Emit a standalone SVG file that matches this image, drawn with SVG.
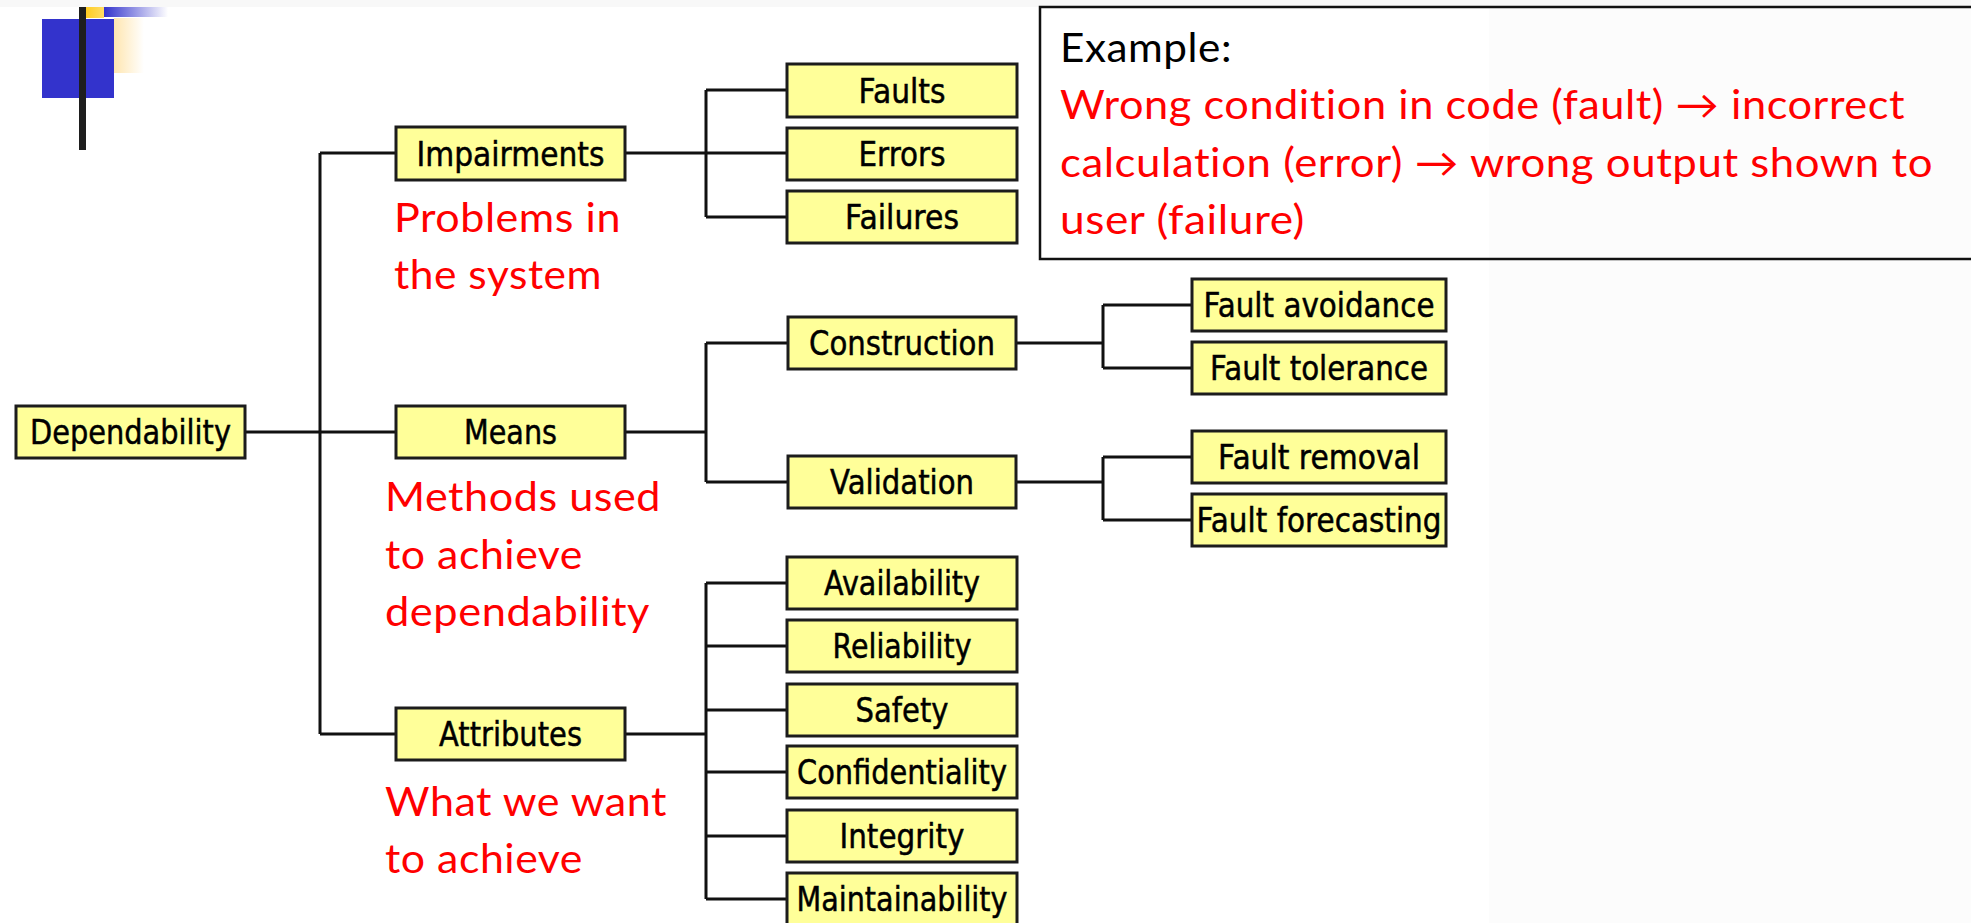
<svg xmlns="http://www.w3.org/2000/svg" width="1971" height="923" viewBox="0 0 1971 923">
<style>
.box{fill:#FFFF99;stroke:#1c1c1c;stroke-width:3}
.lbl{font-family:"DejaVu Sans","Liberation Sans",sans-serif;font-size:33px;fill:#000;stroke:#000;stroke-width:0.5;text-anchor:middle}
.note{font-family:Lato,"Open Sans","DejaVu Sans",sans-serif;font-size:40px;fill:#FF0000;font-variant-ligatures:none;font-feature-settings:"liga" 0,"clig" 0,"dlig" 0,"calt" 0,"hlig" 0;letter-spacing:0.5px}
.ex{font-family:Lato,"Open Sans","DejaVu Sans",sans-serif;font-size:40px;fill:#000;font-variant-ligatures:none;font-feature-settings:"liga" 0,"clig" 0,"dlig" 0,"calt" 0,"hlig" 0;letter-spacing:0.5px}
.con{fill:none;stroke:#111;stroke-width:3}
</style>
<defs>
<linearGradient id="gBlue" x1="0" y1="0" x2="1" y2="0">
<stop offset="0" stop-color="#3333CC"/><stop offset="1" stop-color="#3333CC" stop-opacity="0"/>
</linearGradient>
<linearGradient id="gGold" x1="0" y1="0" x2="1" y2="0">
<stop offset="0" stop-color="#FFCC22"/><stop offset="1" stop-color="#FFDD66"/>
</linearGradient>
<linearGradient id="gCream" x1="0" y1="0" x2="1" y2="0">
<stop offset="0" stop-color="#FFE6B0"/><stop offset="1" stop-color="#FFE6B0" stop-opacity="0"/>
</linearGradient>
</defs>
<rect x="0" y="0" width="1971" height="923" fill="#ffffff"/>
<rect x="1489" y="0" width="482" height="923" fill="#fcfcfc"/>
<rect x="0" y="0" width="1971" height="7" fill="#f8f8f8"/>
<g id="logo">
<rect x="114" y="18" width="30" height="55" fill="url(#gCream)"/>
<rect x="104" y="7" width="64" height="10" fill="url(#gBlue)"/>
<rect x="86" y="7" width="18" height="11" fill="url(#gGold)"/>
<rect x="42" y="19" width="72" height="79" fill="#3333CC"/>
<rect x="79" y="7" width="7" height="143" fill="#1e1e1e"/>
</g>
<g id="connectors">
<path class="con" d="M245,432 H396 M320,153 V734 M320,153 H396 M320,734 H396"/>
<path class="con" d="M625,153 H787 M706,90 V217 M706,90 H787 M706,217 H787"/>
<path class="con" d="M625,432 H706 M706,343 V482 M706,343 H788 M706,482 H788"/>
<path class="con" d="M1016,343 H1103 M1103,305 V368 M1103,305 H1192 M1103,368 H1192"/>
<path class="con" d="M1016,482 H1103 M1103,457 V520 M1103,457 H1192 M1103,520 H1192"/>
<path class="con" d="M625,734 H706 M706,583 V899 M706,583 H787 M706,646 H787 M706,710 H787 M706,772 H787 M706,836 H787 M706,899 H787"/>
</g>
<g id="n-dependability"><rect class="box" x="16" y="406" width="229" height="52"/><text class="lbl" x="130.5" y="444" textLength="201" lengthAdjust="spacingAndGlyphs">Dependability</text></g>
<g id="n-impairments"><rect class="box" x="396" y="127" width="229" height="53"/><text class="lbl" x="510.5" y="166" textLength="188" lengthAdjust="spacingAndGlyphs">Impairments</text></g>
<g id="n-means"><rect class="box" x="396" y="406" width="229" height="52"/><text class="lbl" x="510.5" y="444" textLength="93" lengthAdjust="spacingAndGlyphs">Means</text></g>
<g id="n-attributes"><rect class="box" x="396" y="708" width="229" height="52"/><text class="lbl" x="510.5" y="746" textLength="143" lengthAdjust="spacingAndGlyphs">Attributes</text></g>
<g id="n-faults"><rect class="box" x="787" y="64" width="230" height="53"/><text class="lbl" x="902" y="103" textLength="87" lengthAdjust="spacingAndGlyphs">Faults</text></g>
<g id="n-errors"><rect class="box" x="787" y="128" width="230" height="52"/><text class="lbl" x="902" y="166" textLength="87" lengthAdjust="spacingAndGlyphs">Errors</text></g>
<g id="n-failures"><rect class="box" x="787" y="191" width="230" height="52"/><text class="lbl" x="902" y="229" textLength="114" lengthAdjust="spacingAndGlyphs">Failures</text></g>
<g id="n-construction"><rect class="box" x="788" y="317" width="228" height="52"/><text class="lbl" x="902" y="355" textLength="186" lengthAdjust="spacingAndGlyphs">Construction</text></g>
<g id="n-validation"><rect class="box" x="788" y="456" width="228" height="52"/><text class="lbl" x="902" y="494" textLength="144" lengthAdjust="spacingAndGlyphs">Validation</text></g>
<g id="n-fault-avoidance"><rect class="box" x="1192" y="279" width="254" height="52"/><text class="lbl" x="1319" y="317" textLength="231" lengthAdjust="spacingAndGlyphs">Fault avoidance</text></g>
<g id="n-fault-tolerance"><rect class="box" x="1192" y="342" width="254" height="52"/><text class="lbl" x="1319" y="380" textLength="218" lengthAdjust="spacingAndGlyphs">Fault tolerance</text></g>
<g id="n-fault-removal"><rect class="box" x="1192" y="431" width="254" height="52"/><text class="lbl" x="1319" y="469" textLength="202" lengthAdjust="spacingAndGlyphs">Fault removal</text></g>
<g id="n-fault-forecasting"><rect class="box" x="1192" y="494" width="254" height="52"/><text class="lbl" x="1319" y="532" textLength="245" lengthAdjust="spacingAndGlyphs">Fault forecasting</text></g>
<g id="n-availability"><rect class="box" x="787" y="557" width="230" height="52"/><text class="lbl" x="902" y="595" textLength="156" lengthAdjust="spacingAndGlyphs">Availability</text></g>
<g id="n-reliability"><rect class="box" x="787" y="620" width="230" height="52"/><text class="lbl" x="902" y="658" textLength="139" lengthAdjust="spacingAndGlyphs">Reliability</text></g>
<g id="n-safety"><rect class="box" x="787" y="684" width="230" height="52"/><text class="lbl" x="902" y="722" textLength="93" lengthAdjust="spacingAndGlyphs">Safety</text></g>
<g id="n-confidentiality"><rect class="box" x="787" y="746" width="230" height="52"/><text class="lbl" x="902" y="784" textLength="210" lengthAdjust="spacingAndGlyphs">Confidentiality</text></g>
<g id="n-integrity"><rect class="box" x="787" y="810" width="230" height="52"/><text class="lbl" x="902" y="848" textLength="125" lengthAdjust="spacingAndGlyphs">Integrity</text></g>
<g id="n-maintainability"><rect class="box" x="787" y="873" width="230" height="53"/><text class="lbl" x="902" y="911" textLength="211" lengthAdjust="spacingAndGlyphs">Maintainability</text></g>
<g id="note-impairments">
<text class="note" x="394" y="232" textLength="227" lengthAdjust="spacingAndGlyphs">Problems in</text>
<text class="note" x="394" y="289" textLength="208" lengthAdjust="spacingAndGlyphs">the system</text>
</g>
<g id="note-means">
<text class="note" x="385" y="511" textLength="276" lengthAdjust="spacingAndGlyphs">Methods used</text>
<text class="note" x="385" y="569" textLength="198" lengthAdjust="spacingAndGlyphs">to achieve</text>
<text class="note" x="385" y="626" textLength="265" lengthAdjust="spacingAndGlyphs">dependability</text>
</g>
<g id="note-attributes">
<text class="note" x="385" y="816" textLength="282" lengthAdjust="spacingAndGlyphs">What we want</text>
<text class="note" x="385" y="873" textLength="198" lengthAdjust="spacingAndGlyphs">to achieve</text>
</g>
<g id="example">
<rect x="1040" y="7" width="940" height="252" fill="none" stroke="#111" stroke-width="2.5"/>
<text class="ex" x="1060" y="62" textLength="172" lengthAdjust="spacingAndGlyphs">Example:</text>
<text class="note" x="1060" y="119" textLength="845" lengthAdjust="spacingAndGlyphs">Wrong condition in code (fault) → incorrect</text>
<text class="note" x="1060" y="177" textLength="873" lengthAdjust="spacingAndGlyphs">calculation (error) → wrong output shown to</text>
<text class="note" x="1060" y="234" textLength="245" lengthAdjust="spacingAndGlyphs">user (failure)</text>
</g>
</svg>
